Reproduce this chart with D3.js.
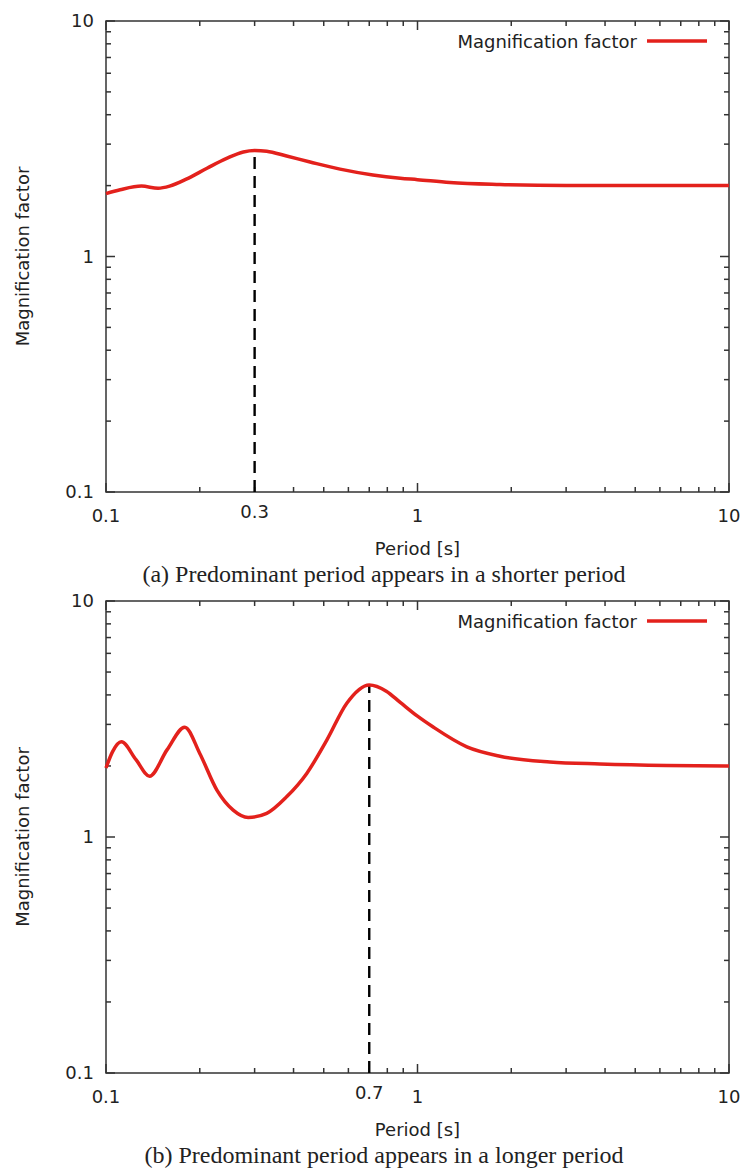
<!DOCTYPE html>
<html lang="en">
    <head>
        <meta charset="UTF-8">
        <script src="https://cdn.jsdelivr.net/npm/d3@7"></script>
        <title>Magnification factor</title>
        <style>
            body { margin: 0; background: #fff; }
            svg text { fill: #222; }
        </style>
    </head>
    <body>
        <svg id="canvas" width="744" height="1171"></svg>

        <script>
            // period [s] and magnification factor
            var periodsA = [0.1, 0.111, 0.13, 0.147, 0.16, 0.181, 0.211, 0.244, 0.276, 0.3, 0.328, 0.38, 0.452, 0.564, 0.719, 0.88, 1.0, 1.27, 1.84, 3.0, 5.0, 10];
            var factorA  = [1.85, 1.92, 1.99, 1.95, 1.99, 2.13, 2.37, 2.61, 2.78, 2.82, 2.80, 2.67, 2.52, 2.35, 2.22, 2.15, 2.12, 2.06, 2.02, 2.0, 2.0, 2.0];

            var periodsB = [0.1, 0.105, 0.112, 0.125, 0.138, 0.157, 0.179, 0.2, 0.227, 0.256, 0.286, 0.328, 0.38, 0.441, 0.512, 0.593, 0.7, 0.794, 0.88, 1.0, 1.12, 1.44, 1.84, 2.66, 3.85, 6.3, 10];
            var factorB  = [1.96, 2.3, 2.53, 2.12, 1.81, 2.34, 2.92, 2.26, 1.58, 1.30, 1.21, 1.26, 1.48, 1.86, 2.58, 3.69, 4.41, 4.15, 3.72, 3.25, 2.93, 2.41, 2.2, 2.08, 2.04, 2.01, 2.0];

            var xMajor = [0.1, 1, 10];
            var yMajor = [0.1, 1, 10];
            var xLabels = ["0.1", "1", "10"];
            var yLabels = ["0.1", "1", "10"];
            var peakA = 0.3, peakB = 0.7;
            var peakLabelA = "0.3", peakLabelB = "0.7";
            var seriesName = "Magnification factor";
            var xTitle = "Period [s]";
            var captionA = "(a) Predominant period appears in a shorter period";
            var captionB = "(b) Predominant period appears in a longer period";

            var svg = d3.select("svg#canvas"),
                left = 106, right = 729,
                red = "#e3211c",
                ink = "#333";

            function isMajor(d, list) {
                return list.some(function(m) { return Math.abs(m - d) < 1e-9 });
            }

            function drawPanel(top, bottom, periods, factor, peak, peakLabel, caption) {
                var g = svg.append("g");
                var x = d3.scaleLog().domain([0.1, 10]).range([left, right]),
                    y = d3.scaleLog().domain([0.1, 10]).range([bottom, top]);

                var xt = x.ticks().map(function(d) { return {v: d, len: isMajor(d, xMajor) ? 9 : 5} }),
                    yt = y.ticks().map(function(d) { return {v: d, len: isMajor(d, yMajor) ? 9 : 5} });

                // ticks point inward on all four sides, gnuplot style
                var tg = g.append("g").attr("stroke", ink).attr("stroke-width", 1.5);
                [bottom, top].forEach(function(edge) {
                    var k = edge === bottom ? -1 : 1;
                    tg.selectAll(null).data(xt).enter().append("line")
                        .attr("x1", function(d) { return x(d.v) }).attr("x2", function(d) { return x(d.v) })
                        .attr("y1", edge).attr("y2", function(d) { return edge + k * d.len });
                });
                [left, right].forEach(function(edge) {
                    var k = edge === left ? 1 : -1;
                    tg.selectAll(null).data(yt).enter().append("line")
                        .attr("y1", function(d) { return y(d.v) }).attr("y2", function(d) { return y(d.v) })
                        .attr("x1", edge).attr("x2", function(d) { return edge + k * d.len });
                });

                g.append("rect").attr("x", left).attr("y", top)
                    .attr("width", right - left).attr("height", bottom - top)
                    .attr("fill", "none").attr("stroke", ink).attr("stroke-width", 1.5);

                var lab = "DejaVu Sans, sans-serif";
                g.selectAll(null).data(yMajor).enter().append("text")
                    .attr("x", left - 12).attr("y", function(d) { return y(d) })
                    .attr("dy", "0.36em").attr("text-anchor", "end")
                    .attr("font-family", lab).attr("font-size", 18)
                    .text(function(d, i) { return yLabels[i] });
                g.selectAll(null).data(xMajor).enter().append("text")
                    .attr("x", function(d) { return x(d) }).attr("y", bottom + 24)
                    .attr("dy", "0.36em").attr("text-anchor", "middle")
                    .attr("font-family", lab).attr("font-size", 18)
                    .text(function(d, i) { return xLabels[i] });
                g.append("text").attr("x", x(peak)).attr("y", bottom + 20)
                    .attr("dy", "0.36em").attr("text-anchor", "middle")
                    .attr("font-family", lab).attr("font-size", 18).text(peakLabel);

                g.append("text").attr("x", (left + right) / 2).attr("y", bottom + 57)
                    .attr("dy", "0.36em").attr("text-anchor", "middle")
                    .attr("font-family", lab).attr("font-size", 18).text(xTitle);
                g.append("text").attr("transform", "translate(23," + (top + bottom) / 2 + ") rotate(-90)")
                    .attr("dy", "0.36em").attr("text-anchor", "middle")
                    .attr("font-family", lab).attr("font-size", 18).text(seriesName);

                g.append("text").attr("x", 384).attr("y", bottom + 82)
                    .attr("dy", "0.33em").attr("text-anchor", "middle")
                    .attr("font-family", "Liberation Serif, serif").attr("font-size", 24).text(caption);

                // dashed marker down from the peak
                var i = periods.indexOf(peak),
                    pk = i >= 0 ? factor[i] : d3.max(factor);
                g.append("line").attr("x1", x(peak)).attr("x2", x(peak))
                    .attr("y1", bottom).attr("y2", y(pk))
                    .attr("stroke", "#000").attr("stroke-width", 2.4)
                    .attr("stroke-dasharray", "12,7");

                var line = d3.line()
                    .x(function(d) { return x(d[0]) })
                    .y(function(d) { return y(d[1]) })
                    .curve(d3.curveMonotoneX);
                g.append("path").attr("d", line(d3.zip(periods, factor)))
                    .attr("fill", "none").attr("stroke", red).attr("stroke-width", 3.5)
                    .attr("stroke-linejoin", "round");

                // legend
                g.append("text").attr("x", 637).attr("y", top + 21)
                    .attr("dy", "0.36em").attr("text-anchor", "end")
                    .attr("font-family", lab).attr("font-size", 18).text(seriesName);
                g.append("line").attr("x1", 647).attr("x2", 707)
                    .attr("y1", top + 20).attr("y2", top + 20)
                    .attr("stroke", red).attr("stroke-width", 3.5);
            }

            drawPanel(21, 492, periodsA, factorA, peakA, peakLabelA, captionA);
            drawPanel(601, 1073, periodsB, factorB, peakB, peakLabelB, captionB);
        </script>
    </body>
</html>
